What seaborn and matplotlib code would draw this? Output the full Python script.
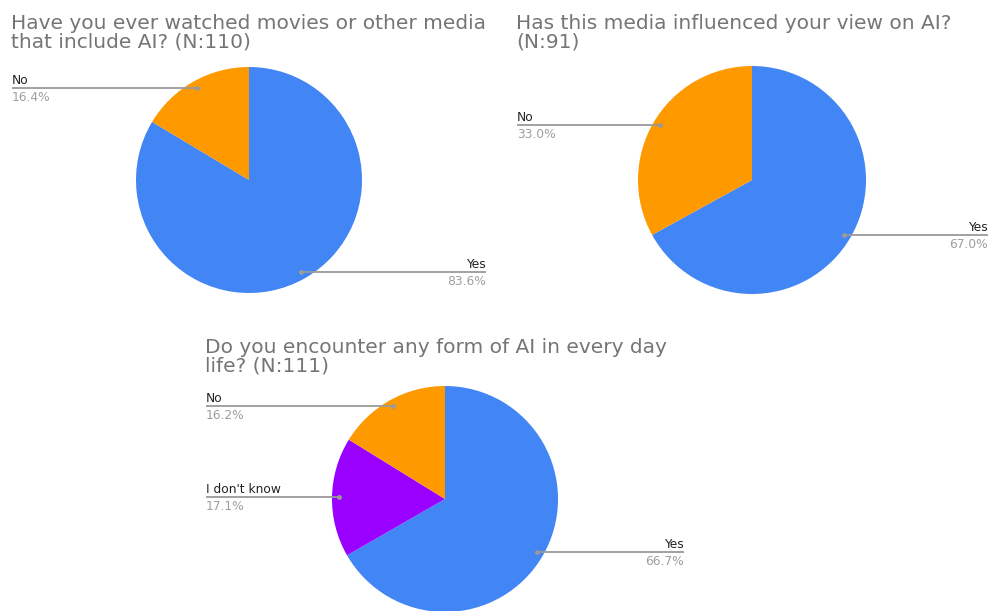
import numpy as np
import matplotlib
matplotlib.use("Agg")
import matplotlib.pyplot as plt
import seaborn as sns

# Survey answers (percent of respondents)
titles = [
    "Have you ever watched movies or other media\nthat include AI? (N:110)",
    "Has this media influenced your view on AI?\n(N:91)",
    "Do you encounter any form of AI in every day\nlife? (N:111)",
]
labels_1 = ["Yes", "No"]
values_1 = [83.6, 16.4]
labels_2 = ["Yes", "No"]
values_2 = [67.0, 33.0]
labels_3 = ["Yes", "I don't know", "No"]
values_3 = [66.7, 17.1, 16.2]

colors = {"Yes": "#4285F4", "No": "#FF9900", "I don't know": "#9900FF"}

sns.set_theme(style="white")
plt.rcParams["font.family"] = ["DejaVu Sans"]

W, H = 990, 611
fig = plt.figure(figsize=(W / 100, H / 100), dpi=100)
ax = fig.add_axes([0, 0, 1, 1])

# layout in pixel units (y measured from top); title_xy gives the last title baseline
panels = [
    dict(labels=labels_1, values=values_1, title=titles[0], center=(249, 180), r=113,
         title_xy=(11, 48), left_x=12, right_x=486),
    dict(labels=labels_2, values=values_2, title=titles[1], center=(752, 180), r=114,
         title_xy=(516, 48), left_x=517, right_x=988),
    dict(labels=labels_3, values=values_3, title=titles[2], center=(445, 499), r=113,
         title_xy=(205, 372), left_x=206, right_x=684),
]

title_color = "#757575"
label_color = "#222222"
pct_color = "#9e9e9e"
line_color = "#9a9a9a"

for p in panels:
    cx, cy = p["center"]
    cy_d = H - cy
    vals = p["values"]
    ax.pie(vals, colors=[colors[l] for l in p["labels"]], startangle=90,
           counterclock=False, center=(cx, cy_d), radius=p["r"],
           wedgeprops=dict(linewidth=0))
    tx, ty = p["title_xy"]
    ax.text(tx, H - ty, p["title"], ha="left", va="baseline", fontsize=14.5,
            color=title_color, linespacing=1.02)

    total = float(sum(vals))
    cum = 0.0
    for lab, v in zip(p["labels"], vals):
        mid = (cum + v / 2) / total
        cum += v
        theta = np.deg2rad(90 - 360 * mid)
        dx = cx + 0.94 * p["r"] * np.cos(theta)
        dy = cy_d + 0.94 * p["r"] * np.sin(theta)
        if np.cos(theta) < 0:
            x0, x1, tx_, ha = p["left_x"], dx, p["left_x"], "left"
        else:
            x0, x1, tx_, ha = dx, p["right_x"], p["right_x"], "right"
        ax.plot([x0, x1], [dy, dy], color=line_color, lw=1.3, solid_capstyle="butt")
        ax.plot([dx], [dy], "o", color=line_color, ms=3.5, mec="none")
        ax.text(tx_, dy + 4, lab, ha=ha, va="baseline", fontsize=8.8, color=label_color)
        ax.text(tx_, dy - 3, f"{v:.1f}%", ha=ha, va="top", fontsize=8.8, color=pct_color)

ax.set_xlim(0, W)
ax.set_ylim(0, H)
ax.set_aspect("equal")
ax.axis("off")

fig.savefig("out.png", dpi=100, facecolor="white")
